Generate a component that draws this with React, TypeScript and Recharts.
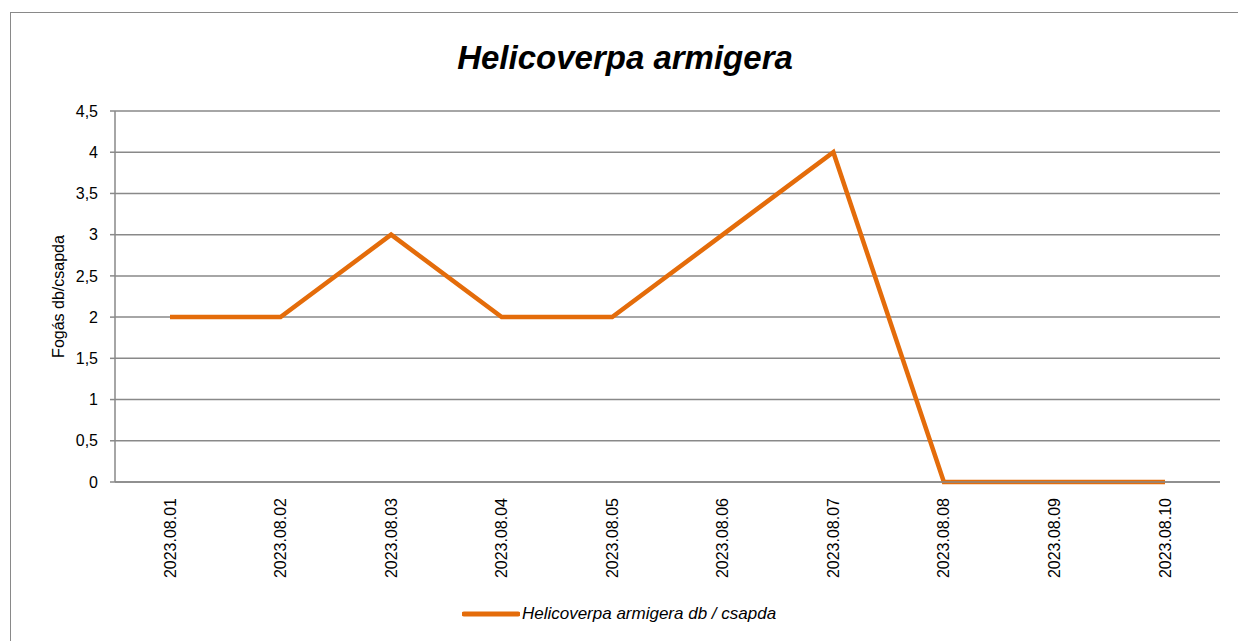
import { CartesianGrid, Legend, Line, LineChart, XAxis, YAxis } from 'recharts'

const dates = [
  '2023.08.01',
  '2023.08.02',
  '2023.08.03',
  '2023.08.04',
  '2023.08.05',
  '2023.08.06',
  '2023.08.07',
  '2023.08.08',
  '2023.08.09',
  '2023.08.10',
]
const catches = [2, 2, 3, 2, 2, 3, 4, 0, 0, 0]
const yTicks = [0, 0.5, 1, 1.5, 2, 2.5, 3, 3.5, 4, 4.5]

const seriesName = 'Helicoverpa armigera db / csapda'
const orange = '#E46C0A'
const grey = '#898989'
const font = '"Liberation Sans", Arial, sans-serif'

const data = dates.map((date, i) => ({ date, value: catches[i] }))

function DateTick({ x, y, payload }: any) {
  return (
    <text
      x={x}
      y={y}
      transform={`rotate(-90, ${x}, ${y})`}
      textAnchor="end"
      dominantBaseline="central"
      fontFamily={font}
      fontSize={16}
      fill="#000"
    >
      {payload.value}
    </text>
  )
}

function LegendContent() {
  return (
    <div style={{ display: 'flex', justifyContent: 'center', alignItems: 'center' }}>
      <svg width={58} height={8}>
        <line x1={2} y1={4} x2={56} y2={4} stroke={orange} strokeWidth={5} strokeLinecap="round" />
      </svg>
      <span style={{ fontFamily: font, fontSize: 17, fontStyle: 'italic', marginLeft: 2 }}>{seriesName}</span>
    </div>
  )
}

export default function App() {
  return (
    <div style={{ position: 'absolute', left: 0, top: 0, width: 1238, height: 641, overflow: 'hidden', background: '#fff' }}>
      <div
        style={{
          position: 'absolute',
          left: 10,
          top: 12,
          width: 1240,
          height: 640,
          border: `1px solid ${grey}`,
          boxSizing: 'border-box',
        }}
      />
      <div
        style={{
          position: 'absolute',
          left: 0,
          width: 1250,
          top: 39,
          textAlign: 'center',
          fontFamily: font,
          fontSize: 33,
          fontWeight: 'bold',
          fontStyle: 'italic',
        }}
      >
        Helicoverpa armigera
      </div>
      <div style={{ position: 'absolute', left: 0, top: 0 }}>
        <LineChart width={1238} height={641} data={data} margin={{ top: 111, right: 18, bottom: 0, left: 55 }}>
          <CartesianGrid vertical={false} stroke={grey} strokeWidth={1.5} />
          <XAxis
            dataKey="date"
            stroke={grey}
            strokeWidth={1.5}
            tickLine={false}
            tick={<DateTick />}
            height={139}
            interval={0}
            tickMargin={10}
            padding={{ left: 55, right: 55 }}
          />
          <YAxis
            domain={[0, 4.5]}
            ticks={yTicks}
            width={60}
            stroke={grey}
            strokeWidth={1.5}
            tickSize={5}
            tickMargin={12}
            tickFormatter={(v: number) => String(v).replace('.', ',')}
            tick={{ fill: '#000', fontFamily: font, fontSize: 16 }}
            label={{
              value: 'Fogás db/csapda',
              angle: -90,
              position: 'insideLeft',
              offset: 3,
              style: { textAnchor: 'middle', fontFamily: font, fontSize: 16, fill: '#000' },
            }}
          />
          <Legend
            verticalAlign="bottom"
            content={<LegendContent />}
            wrapperStyle={{ bottom: 17, left: 0, width: 1238 }}
          />
          <Line
            type="linear"
            dataKey="value"
            name={seriesName}
            stroke={orange}
            strokeWidth={4.5}
            dot={false}
            activeDot={false}
            isAnimationActive={false}
          />
        </LineChart>
      </div>
    </div>
  )
}
